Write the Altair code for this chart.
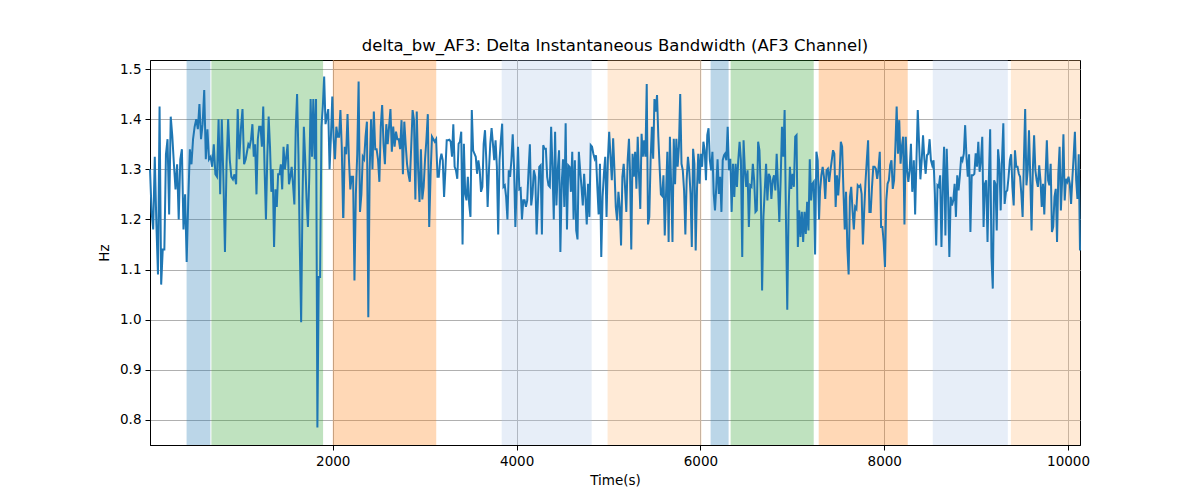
import altair as alt
import numpy as np
import pandas as pd

# ---- signal values, read segment by segment (time ranges in seconds) ----
seg_t0 = [12, 1082, 2116, 3154, 4204, 5234, 6268, 7302, 8322, 9367]
seg_t1 = [1053, 2113, 3140, 4188, 5223, 6257, 7291, 8319, 9353, 10130]

s1 = [1.30, 1.215, 1.18, 1.325, 1.19, 1.09, 1.425, 1.07, 1.14, 1.14, 1.33, 1.36, 1.21, 1.405, 1.365,
      1.31, 1.26, 1.31, 1.20, 1.32, 1.34, 1.18, 1.25, 1.115, 1.24, 1.34, 1.31, 1.36, 1.385, 1.40,
      1.38, 1.43, 1.36, 1.39, 1.458, 1.32, 1.38, 1.32, 1.325, 1.305, 1.35, 1.29, 1.285, 1.40, 1.25,
      1.40, 1.285, 1.135, 1.31, 1.40, 1.32, 1.285, 1.28, 1.29, 1.27, 1.42, 1.32, 1.38, 1.42, 1.31, 1.32]
s2 = [1.35, 1.345, 1.36, 1.39, 1.325, 1.35, 1.25, 1.36, 1.385, 1.385, 1.345, 1.425, 1.30, 1.20, 1.325,
      1.405, 1.345, 1.255, 1.30, 1.145, 1.26, 1.225, 1.29, 1.29, 1.31, 1.26, 1.345, 1.30, 1.325, 1.35,
      1.27, 1.285, 1.305, 1.27, 1.23, 1.38, 1.45, 1.33, 1.145, 0.995, 1.24, 1.385, 1.32, 1.24, 1.185,
      1.285, 1.44, 1.325, 1.44, 1.32, 1.44, 0.785, 1.085, 1.085, 1.385, 1.425, 1.485, 1.39, 1.405, 1.42,
      1.30, 1.365, 1.445, 1.36, 1.32, 1.385, 1.365, 1.365, 1.418, 1.345, 1.205]
s3 = [1.205, 1.345, 1.33, 1.41, 1.32, 1.26, 1.285, 1.285, 1.078, 1.25, 1.33, 1.475, 1.215, 1.25, 1.325,
      1.32, 1.365, 1.395, 1.005, 1.30, 1.40, 1.30, 1.415, 1.34, 1.34, 1.32, 1.275, 1.385, 1.428, 1.35,
      1.31, 1.39, 1.35, 1.385, 1.42, 1.335, 1.385, 1.345, 1.375, 1.36, 1.36, 1.34, 1.398, 1.29, 1.395,
      1.35, 1.31, 1.29, 1.275, 1.345, 1.418, 1.398, 1.24, 1.415, 1.30, 1.235, 1.34, 1.24, 1.265, 1.32,
      1.36, 1.41, 1.185, 1.29, 1.365, 1.36, 1.355, 1.36, 1.285]
s4 = [1.285, 1.318, 1.331, 1.318, 1.245, 1.298, 1.358, 1.358, 1.359, 1.355, 1.325, 1.39, 1.305, 1.298,
      1.281, 1.351, 1.355, 1.375, 1.15, 1.351, 1.251, 1.238, 1.285, 1.231, 1.205, 1.418, 1.338, 1.331,
      1.325, 1.291, 1.318, 1.298, 1.255, 1.265, 1.351, 1.378, 1.318, 1.225, 1.298, 1.351, 1.382, 1.351,
      1.318, 1.358, 1.305, 1.17, 1.318, 1.358, 1.391, 1.265, 1.268, 1.245, 1.20, 1.298, 1.285, 1.318,
      1.37, 1.305, 1.185, 1.265, 1.345, 1.26, 1.262, 1.20, 1.238, 1.238, 1.225, 1.238, 1.298, 1.35,
      1.228, 1.251, 1.298]
s5 = [1.285, 1.17, 1.238, 1.305, 1.308, 1.17, 1.348, 1.341, 1.341, 1.285, 1.268, 1.265, 1.385, 1.305,
      1.20, 1.375, 1.228, 1.298, 1.338, 1.135, 1.271, 1.32, 1.225, 1.392, 1.18, 1.308, 1.305, 1.255,
      1.335, 1.20, 1.318, 1.178, 1.16, 1.335, 1.298, 1.265, 1.228, 1.291, 1.245, 1.19, 1.271, 1.205,
      1.348, 1.345, 1.331, 1.321, 1.328, 1.265, 1.21, 1.311, 1.125, 1.245, 1.291, 1.325, 1.205, 1.318,
      1.375, 1.325, 1.278, 1.362, 1.298, 1.225, 1.198, 1.255, 1.225, 1.148, 1.285, 1.311, 1.265, 1.215,
      1.318, 1.361]
s6 = [1.298, 1.14, 1.331, 1.285, 1.335, 1.261, 1.365, 1.288, 1.221, 1.371, 1.325, 1.358, 1.325, 1.47,
      1.19, 1.205, 1.318, 1.385, 1.321, 1.44, 1.415, 1.448, 1.365, 1.305, 1.25, 1.247, 1.288, 1.168,
      1.251, 1.335, 1.155, 1.365, 1.265, 1.155, 1.361, 1.27, 1.361, 1.305, 1.345, 1.45, 1.311, 1.298,
      1.258, 1.17, 1.278, 1.325, 1.298, 1.251, 1.145, 1.341, 1.311, 1.138, 1.258, 1.331, 1.271, 1.331,
      1.305, 1.355, 1.338, 1.278, 1.368, 1.382, 1.318, 1.298, 1.335, 1.251, 1.218, 1.265, 1.32, 1.251,
      1.285, 1.215, 1.318, 1.328]
s7 = [1.331, 1.318, 1.385, 1.298, 1.321, 1.215, 1.311, 1.245, 1.311, 1.265, 1.318, 1.355, 1.318, 1.125,
      1.358, 1.298, 1.265, 1.298, 1.185, 1.268, 1.265, 1.311, 1.278, 1.215, 1.218, 1.355, 1.338, 1.258,
      1.058, 1.205, 1.258, 1.311, 1.238, 1.291, 1.285, 1.241, 1.278, 1.288, 1.258, 1.331, 1.268, 1.195,
      1.278, 1.385, 1.325, 1.418, 1.205, 1.02, 1.218, 1.305, 1.261, 1.291, 1.265, 1.365, 1.368, 1.145,
      1.218, 1.165, 1.215, 1.155, 1.215, 1.171, 1.235, 1.178, 1.32, 1.238, 1.271, 1.275, 1.13, 1.335,
      1.318, 1.20]
s8 = [1.258, 1.288, 1.305, 1.285, 1.241, 1.298, 1.301, 1.275, 1.298, 1.318, 1.338, 1.331, 1.225, 1.288,
      1.248, 1.288, 1.355, 1.345, 1.258, 1.18, 1.255, 1.145, 1.09, 1.245, 1.265, 1.218, 1.18, 1.225,
      1.221, 1.268, 1.265, 1.268, 1.251, 1.15, 1.218, 1.275, 1.318, 1.358, 1.215, 1.215, 1.265, 1.305,
      1.305, 1.301, 1.281, 1.301, 1.335, 1.185, 1.185, 1.155, 1.105, 1.238, 1.271, 1.278, 1.308, 1.318,
      1.261, 1.278, 1.345, 1.425, 1.331, 1.398, 1.311, 1.345, 1.365, 1.19, 1.365, 1.298, 1.275, 1.298,
      1.351, 1.255, 1.298]
s9 = [1.318, 1.21, 1.318, 1.418, 1.351, 1.28, 1.318, 1.368, 1.321, 1.291, 1.328, 1.331, 1.36, 1.318,
      1.308, 1.318, 1.251, 1.148, 1.268, 1.265, 1.288, 1.145, 1.265, 1.345, 1.168, 1.341, 1.251, 1.125,
      1.245, 1.228, 1.238, 1.271, 1.205, 1.288, 1.258, 1.288, 1.325, 1.318, 1.331, 1.388, 1.325, 1.285,
      1.33, 1.175, 1.288, 1.288, 1.291, 1.332, 1.305, 1.355, 1.295, 1.318, 1.365, 1.185, 1.271, 1.278,
      1.155, 1.278, 1.38, 1.125, 1.062, 1.278, 1.271, 1.178, 1.34, 1.311, 1.218, 1.318, 1.392, 1.231,
      1.255, 1.258, 1.285]
s10 = [1.318, 1.33, 1.265, 1.228, 1.338, 1.305, 1.305, 1.291, 1.285, 1.251, 1.205, 1.318, 1.42, 1.268,
       1.298, 1.378, 1.285, 1.178, 1.298, 1.368, 1.298, 1.278, 1.265, 1.308, 1.278, 1.225, 1.271, 1.21,
       1.288, 1.358, 1.278, 1.268, 1.311, 1.175, 1.185, 1.245, 1.261, 1.155, 1.291, 1.345, 1.218, 1.278,
       1.37, 1.238, 1.281, 1.275, 1.285, 1.271, 1.231, 1.281, 1.325, 1.375, 1.278, 1.241, 1.33, 1.138]

segments = [s1, s2, s3, s4, s5, s6, s7, s8, s9, s10]

# ---- shaded phases ----
band_start = [410, 680, 2000, 3838, 4990, 6111, 6329, 7287, 8528, 9378]
band_end = [669, 1895, 3126, 4817, 6013, 6307, 7233, 8256, 9345, 10130]
band_color = ["#1f77b4", "#2ca02c", "#ff7f0e", "#aec7e8", "#ffbb78",
              "#1f77b4", "#2ca02c", "#ff7f0e", "#aec7e8", "#ffbb78"]

x_ticks = [2000, 4000, 6000, 8000, 10000]
y_ticks = [0.8, 0.9, 1.0, 1.1, 1.2, 1.3, 1.4, 1.5]

rows = []
for t0, t1, vals in zip(seg_t0, seg_t1, segments):
    ts = np.linspace(t0, t1, len(vals))
    rows += [{"t": float(t), "v": v} for t, v in zip(ts, vals)]
line_df = pd.DataFrame(rows)
band_df = pd.DataFrame({"start": band_start, "end": band_end, "color": band_color})

FONT = "DejaVu Sans"
xscale = alt.Scale(domain=[12, 10130], nice=False, zero=False)
yscale = alt.Scale(domain=[0.75, 1.518], nice=False, zero=False)

bands = alt.Chart(band_df).mark_rect(opacity=0.3).encode(
    x=alt.X("start:Q", scale=xscale,
            axis=alt.Axis(title="Time(s)", values=x_ticks, format="d")),
    x2="end:Q",
    color=alt.Color("color:N", scale=None),
)

line = alt.Chart(line_df).mark_line(color="#1f77b4", strokeWidth=2).encode(
    x=alt.X("t:Q", scale=xscale),
    y=alt.Y("v:Q", scale=yscale,
            axis=alt.Axis(title="Hz", values=y_ticks, format=".1f")),
)

chart = (bands + line).properties(
    width=930,
    height=385,
    title=alt.TitleParams("delta_bw_AF3: Delta Instantaneous Bandwidth (AF3 Channel)",
                          font=FONT, fontSize=16.5, fontWeight="normal", color="black",
                          offset=6),
    autosize=alt.AutoSizeParams(type="none"),
    padding={"left": 142, "top": 52, "right": 112, "bottom": 52},
).configure_view(
    stroke="black", strokeWidth=1
).configure_axis(
    labelFont=FONT, titleFont=FONT, labelFontSize=13.5, titleFontSize=13.5,
    titleFontWeight="normal", labelColor="black", titleColor="black",
    domainColor="black", tickColor="black", tickSize=5, labelPadding=4,
    gridColor="#b0b0b0", gridWidth=1,
).configure_axisX(
    titlePadding=6,
).configure_axisY(
    titlePadding=8,
)

chart.save("out.html", embed_options={"renderer": "svg", "actions": False})
